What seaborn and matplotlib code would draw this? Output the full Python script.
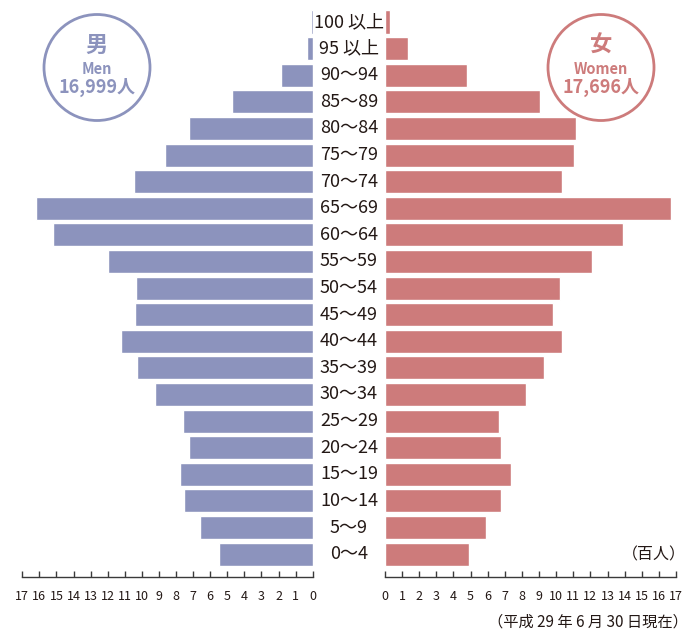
import matplotlib
matplotlib.use("Agg")
import matplotlib.pyplot as plt
import matplotlib.transforms as mtransforms
from matplotlib.patches import Circle
import seaborn as sns
import pandas as pd

ages = ["100 以上", "95 以上", "90～94", "85～89", "80～84", "75～79", "70～74",
        "65～69", "60～64", "55～59", "50～54", "45～49", "40～44", "35～39",
        "30～34", "25～29", "20～24", "15～19", "10～14", "5～9", "0～4"]
men = [0.1, 0.33, 1.86, 4.72, 7.24, 8.65, 10.46, 16.2, 15.2, 11.98, 10.35, 10.41,
       11.22, 10.29, 9.23, 7.59, 7.24, 7.77, 7.54, 6.6, 5.49]
women = [0.29, 1.34, 4.79, 9.05, 11.16, 11.04, 10.34, 16.71, 13.9, 12.09, 10.22,
         9.81, 10.34, 9.29, 8.24, 6.66, 6.78, 7.36, 6.78, 5.9, 4.91]
ticks = list(range(0, 18))
men_total = "16,999人"
women_total = "17,696人"

MEN_C = "#8C93BD"
WOMEN_C = "#CD7B7B"
TXT = "#231815"

sns.set_theme(style="white")
plt.rcParams["font.family"] = ["Noto Sans CJK JP", "DejaVu Sans"]

df = pd.DataFrame({"age": ages, "men": men, "women": women})

fig = plt.figure(figsize=(6.98, 6.34), dpi=100)
bottom = 1 - 577 / 634
height = (577 - 8.7) / 634
axL = fig.add_axes([22.3 / 698, bottom, 290.4 / 698, height])
axR = fig.add_axes([385 / 698, bottom, 291 / 698, height])

sns.barplot(data=df, x="men", y="age", order=ages, ax=axL, color=MEN_C,
            saturation=1, orient="h", width=0.865)
sns.barplot(data=df, x="women", y="age", order=ages, ax=axR, color=WOMEN_C,
            saturation=1, orient="h", width=0.865)

for ax in (axL, axR):
    ax.set_ylim(20.86, -0.5)
    ax.set_ylabel("")
    ax.set_xlabel("")
    ax.set_yticks([])
    ax.set_facecolor("none")
    for s in ("top", "left", "right"):
        ax.spines[s].set_visible(False)
    ax.spines["bottom"].set_color("#3a3a3a")
    ax.spines["bottom"].set_linewidth(1.0)
    ax.set_xticks(ticks)
    ax.set_xticklabels([str(t) for t in ticks])
    ax.tick_params(axis="x", direction="in", length=4, width=1.0, color="#3a3a3a",
                   pad=9, labelsize=9, labelcolor=TXT, bottom=True)

axL.set_xlim(17, 0)
axR.set_xlim(0, 17)

# age labels in the middle
trans = mtransforms.blended_transform_factory(fig.transFigure, axL.transData)
for i, a in enumerate(ages):
    fig.text(0.5, i, a, transform=trans, ha="center", va="center",
             fontsize=13, color=TXT)

# unit and footnote
fig.text(686 / 698, 1 - 555 / 634, "（百人）", ha="right", va="center",
         fontsize=11.5, color=TXT)
fig.text(688 / 698, 1 - 622 / 634, "（平成 29 年 6 月 30 日現在）", ha="right",
         va="center", fontsize=11, color=TXT)

# circles
def badge(cx, cy, color, kanji, eng, total):
    ax = fig.add_axes([0, 0, 1, 1], facecolor="none")
    ax.set_xlim(0, 698)
    ax.set_ylim(634, 0)
    ax.axis("off")
    ax.add_patch(Circle((cx, cy), 53, fill=False, edgecolor=color, linewidth=2.0))
    ax.text(cx, cy - 22, kanji, ha="center", va="center", fontsize=16,
            fontweight="bold", color=color)
    ax.text(cx, cy + 1, eng, ha="center", va="center", fontsize=10.5,
            fontweight="bold", color=color)
    ax.text(cx, cy + 20, total, ha="center", va="center", fontsize=13,
            fontweight="bold", color=color)

badge(97, 67.5, MEN_C, "男", "Men", men_total)
badge(601, 67.5, WOMEN_C, "女", "Women", women_total)

fig.savefig("out.png", dpi=100)
